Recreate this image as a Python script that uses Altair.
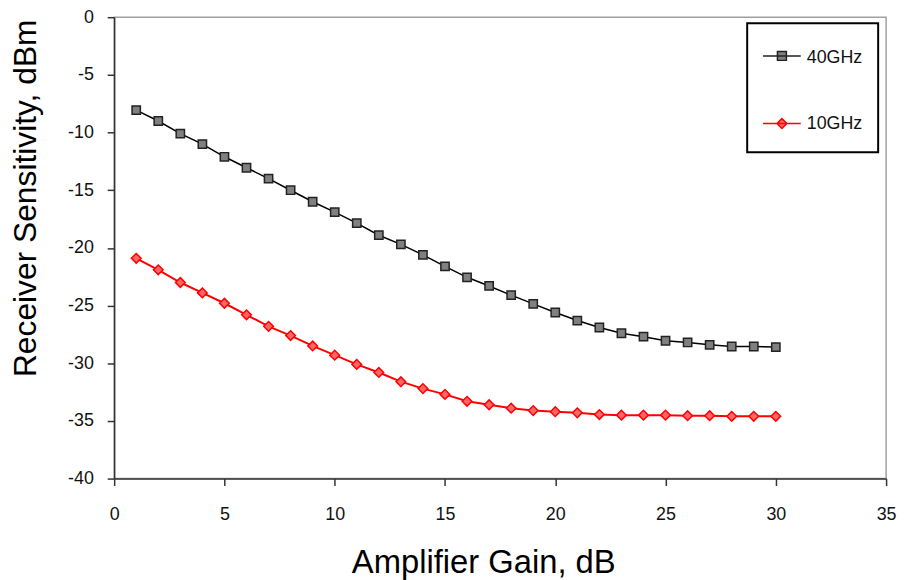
import altair as alt
import pandas as pd

# Data
gain = list(range(1, 31))
sens_40ghz = [-8.05, -9.0, -10.1, -11.0, -12.1, -13.05, -14.0, -15.0, -16.0, -16.9,
              -17.85, -18.9, -19.7, -20.6, -21.6, -22.55, -23.3, -24.1, -24.85, -25.6,
              -26.3, -26.9, -27.4, -27.7, -28.05, -28.2, -28.4, -28.55, -28.55, -28.6]
sens_10ghz = [-20.9, -21.9, -23.0, -23.9, -24.8, -25.8, -26.8, -27.6, -28.5, -29.3,
              -30.1, -30.8, -31.6, -32.2, -32.7, -33.3, -33.6, -33.9, -34.1, -34.2,
              -34.3, -34.45, -34.5, -34.5, -34.5, -34.55, -34.55, -34.6, -34.6, -34.6]
series_names = ["40GHz", "10GHz"]
x_ticks = [0, 5, 10, 15, 20, 25, 30, 35]
y_ticks = [-40, -35, -30, -25, -20, -15, -10, -5, 0]

df = pd.DataFrame({
    "gain": gain * 2,
    "sens": sens_40ghz + sens_10ghz,
    "series": [series_names[0]] * len(gain) + [series_names[1]] * len(gain),
})

FONT = "Liberation Sans"
dom = series_names

x_enc = alt.X(
    "gain:Q",
    scale=alt.Scale(domain=[0, 35], nice=False, zero=False),
    axis=alt.Axis(
        values=x_ticks, grid=False, tickSize=7, labelPadding=20,
        labelFontSize=18, labelFont=FONT, labelColor="#111111",
        domainColor="#333333", domainWidth=1.5, tickColor="#333333", tickWidth=1.5,
        title="Amplifier Gain, dB", titleFont=FONT, titleFontSize=33,
        titleFontWeight="normal", titleColor="#000000",
        titleX=372, titleY=95, titleBaseline="alphabetic", titleAlign="center",
        labelFlush=False,
    ),
)
y_enc = alt.Y(
    "sens:Q",
    scale=alt.Scale(domain=[-40, 0], nice=False, zero=False),
    axis=alt.Axis(
        values=y_ticks, grid=False, tickSize=7, labelPadding=14,
        labelFontSize=18, labelFont=FONT, labelColor="#111111",
        labelExpr="'' + datum.value",
        domainColor="#333333", domainWidth=1.5, tickColor="#333333", tickWidth=1.5,
        title="Receiver Sensitivity, dBm", titleFont=FONT, titleFontSize=32,
        titleFontWeight="normal", titleColor="#000000",
        titleAngle=270, titleX=-79, titleY=182, titleBaseline="alphabetic",
        titleAlign="center",
    ),
)

base = alt.Chart(df)
d40 = base.transform_filter(alt.datum.series == dom[0])
d10 = base.transform_filter(alt.datum.series == dom[1])

line40 = d40.mark_line(color="#000000", strokeWidth=1.5).encode(x=x_enc, y=y_enc)
line10 = d10.mark_line(color="#FF0000", strokeWidth=2).encode(x=x_enc, y=y_enc)

pts40 = d40.mark_point(
    shape="square", filled=True, fill="#808080", stroke="#222222",
    strokeWidth=1.5, size=70, opacity=1,
).encode(x=x_enc, y=y_enc)
pts10 = d10.mark_point(
    shape="diamond", filled=True, fill="#FF6666", stroke="#FF0000",
    strokeWidth=1.5, size=95, opacity=1,
).encode(x=x_enc, y=y_enc)

# Legend symbols: a short line with the series marker on it (plus two
# zero-length strokes that only set the height of each legend row)
legend_paths = [
    "M-1,-0.105H1M-0.237,-0.342H0.237V0.132H-0.237Z"
    "M0,-1.381L0,-1.381M0,0.5L0,0.5",
    "M-1,-0.042H1M0,-0.305L0.263,-0.042L0,0.221L-0.263,-0.042Z"
    "M0,-1.381L0,-1.381M0,0.5L0,0.5",
]

legend = alt.Legend(
    title=None, orient="none", legendX=638, legendY=6,
    symbolSize=1444, symbolStrokeWidth=1.5, symbolOpacity=1,
    labelFont=FONT, labelFontSize=18, labelColor="#111111", labelOffset=5,
    padding=15, rowPadding=24,
    strokeColor="#000000", fillColor="#FFFFFF",
)

legend_layer = base.transform_filter("false").mark_point(filled=True, opacity=1).encode(
    x=x_enc,
    y=y_enc,
    shape=alt.Shape("series:N", scale=alt.Scale(domain=dom, range=legend_paths), legend=legend),
    fill=alt.Fill("series:N", scale=alt.Scale(domain=dom, range=["#808080", "#FF6666"]), legend=legend),
    stroke=alt.Stroke("series:N", scale=alt.Scale(domain=dom, range=["#222222", "#FF0000"]), legend=legend),
)

chart = alt.layer(line40, line10, pts40, pts10, legend_layer).properties(
    width=778, height=465,
    autosize=alt.AutoSizeParams(type="none"),
    padding={"left": 107, "top": 7, "right": 12, "bottom": 108},
    background="#FFFFFF",
).configure_view(
    stroke="#A0A0A0", strokeWidth=1.5,
).configure_legend(
    strokeWidth=2,
)

chart.save("out.html", embed_options={"renderer": "svg", "actions": False})
